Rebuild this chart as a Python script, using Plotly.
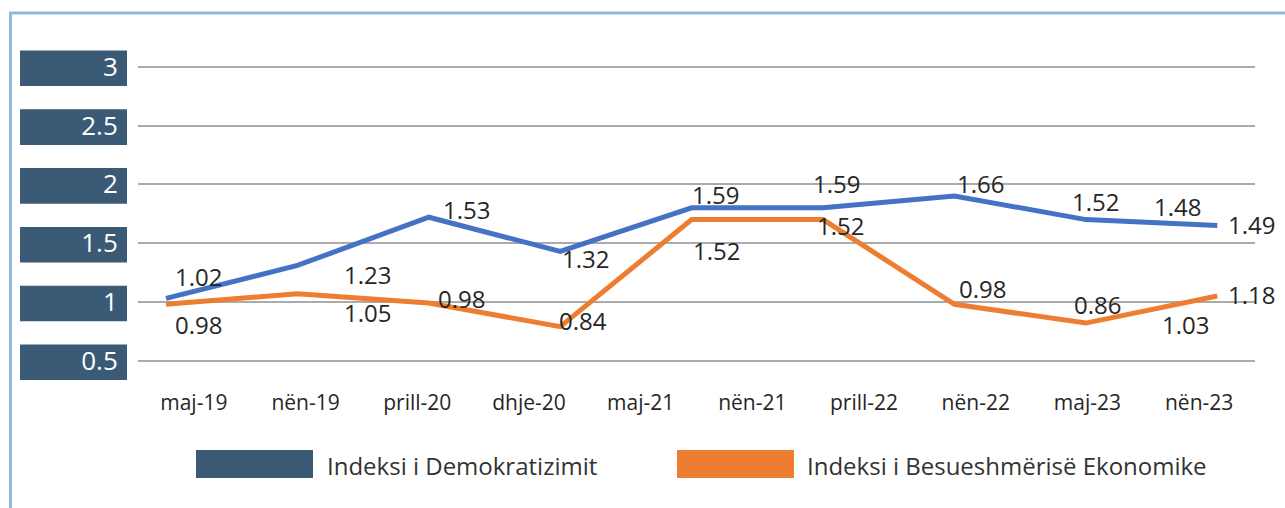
import plotly.graph_objects as go

# ---- data ----
categories = ["maj-19", "nën-19", "prill-20", "dhje-20", "maj-21",
              "nën-21", "prill-22", "nën-22", "maj-23", "nën-23"]
series_names = ["Indeksi i Demokratizimit", "Indeksi i Besueshmërisë Ekonomike"]
# line vertices as drawn (9 points each)
demo_line = [1.03, 1.31, 1.72, 1.43, 1.80, 1.80, 1.90, 1.70, 1.65]
econ_line = [0.98, 1.07, 0.99, 0.79, 1.70, 1.70, 0.98, 0.82, 1.05]
# data label texts as shown
demo_labels = ["1.02", "1.23", "1.53", "1.32", "1.59", "1.59", "1.66", "1.52", "1.48", "1.49"]
econ_labels = ["0.98", "1.05", "0.98", "0.84", "1.52", "1.52", "0.98", "0.86", "1.03", "1.18"]
y_ticks = [0.5, 1, 1.5, 2, 2.5, 3]

# ---- placement of data labels (axis units: x2, y) ----
demo_label_pos = [(0.244, 1.220), (1.537, 1.237), (2.283, 1.790), (3.189, 1.365), (4.178, 1.917),
                  (5.106, 2.011), (6.195, 2.003), (7.070, 1.858), (7.701, 1.815), (8.257, 1.662)]
econ_label_pos = [(0.244, 0.812), (1.537, 0.914), (2.245, 1.033), (3.174, 0.846), (4.186, 1.433),
                  (5.129, 1.654), (6.217, 1.118), (7.085, 0.982), (7.755, 0.812), (8.257, 1.067)]

BLUE = "#4472C4"
ORANGE = "#ED7D31"
NAVY = "#3A5A76"
FONT = "Open Sans"
TXT = "#262626"

W, H = 1285, 508
L, R, T, B = 138, 30, 40, 120
pw, ph = W - L - R, H - T - B

fig = go.Figure()
# dummy trace to establish category axis
fig.add_trace(go.Scatter(x=categories, y=[None] * len(categories), xaxis="x", yaxis="y",
                         mode="lines", showlegend=False, hoverinfo="skip"))
fig.add_trace(go.Scatter(x=list(range(len(demo_line))), y=demo_line, xaxis="x2", yaxis="y",
                         mode="lines", name=series_names[0],
                         line=dict(color=BLUE, width=5), showlegend=False))
fig.add_trace(go.Scatter(x=list(range(len(econ_line))), y=econ_line, xaxis="x2", yaxis="y",
                         mode="lines", name=series_names[1],
                         line=dict(color=ORANGE, width=5), showlegend=False))

annotations = []
for txt, (ax, ay) in zip(demo_labels, demo_label_pos):
    annotations.append(dict(x=ax, y=ay, xref="x2", yref="y", text=txt, showarrow=False,
                            font=dict(family=FONT, size=24, color=TXT)))
for txt, (ax, ay) in zip(econ_labels, econ_label_pos):
    annotations.append(dict(x=ax, y=ay, xref="x2", yref="y", text=txt, showarrow=False,
                            font=dict(family=FONT, size=24, color=TXT)))

def px_x(px):
    return (px - L) / pw

def px_y(py):
    return (H - B - py) / ph

shapes = []
# tick label boxes
for v in y_ticks:
    shapes.append(dict(type="rect", xref="paper", yref="y", x0=px_x(20), x1=px_x(127),
                       y0=v - 0.165, y1=v + 0.138, fillcolor=NAVY, line=dict(width=0),
                       layer="below"))
# frame
shapes.append(dict(type="line", xref="paper", yref="paper", x0=px_x(10.5), x1=px_x(10.5),
                   y0=px_y(12), y1=px_y(520), line=dict(color="#8DBBDD", width=3)))
shapes.append(dict(type="line", xref="paper", yref="paper", x0=px_x(9), x1=px_x(1290),
                   y0=px_y(13), y1=px_y(13), line=dict(color="#8DBBDD", width=3)))
# legend
legend_items = [(series_names[0], NAVY, 196, 313, 325), (series_names[1], ORANGE, 677, 794, 805)]
for name, col, x0, x1, tx in legend_items:
    shapes.append(dict(type="rect", xref="paper", yref="paper", x0=px_x(x0), x1=px_x(x1),
                       y0=px_y(478), y1=px_y(450), fillcolor=col, line=dict(width=0)))
    annotations.append(dict(x=px_x(tx), y=px_y(465), xref="paper", yref="paper", text=name,
                            showarrow=False, xanchor="left", yanchor="middle",
                            font=dict(family=FONT, size=24, color="#333333")))

fig.update_layout(
    width=W, height=H,
    margin=dict(l=L, r=R, t=T, b=B),
    paper_bgcolor="white", plot_bgcolor="white",
    font=dict(family=FONT),
    xaxis=dict(type="category", categoryorder="array", categoryarray=categories,
               range=[-0.5, len(categories) - 0.5], showgrid=False, showline=False,
               zeroline=False, ticks="", tickfont=dict(family=FONT, size=21, color=TXT),
               fixedrange=True),
    xaxis2=dict(overlaying="x", range=[-0.213, 8.287], visible=False, fixedrange=True),
    yaxis=dict(range=[0.268, 3.227], tickvals=y_ticks, ticktext=[f"{v:g}" for v in y_ticks],
               showgrid=True, gridcolor="#ABABAB", gridwidth=1.5, zeroline=False,
               showline=False, ticks="outside", ticklen=14, tickcolor="rgba(0,0,0,0)",
               tickfont=dict(family=FONT, size=26, color="white"), fixedrange=True),
    shapes=shapes,
    annotations=annotations,
    showlegend=False,
)

fig.write_html("out.html", config={"displayModeBar": False},
               post_script="document.body.style.margin='0';document.body.style.overflow='hidden';")
